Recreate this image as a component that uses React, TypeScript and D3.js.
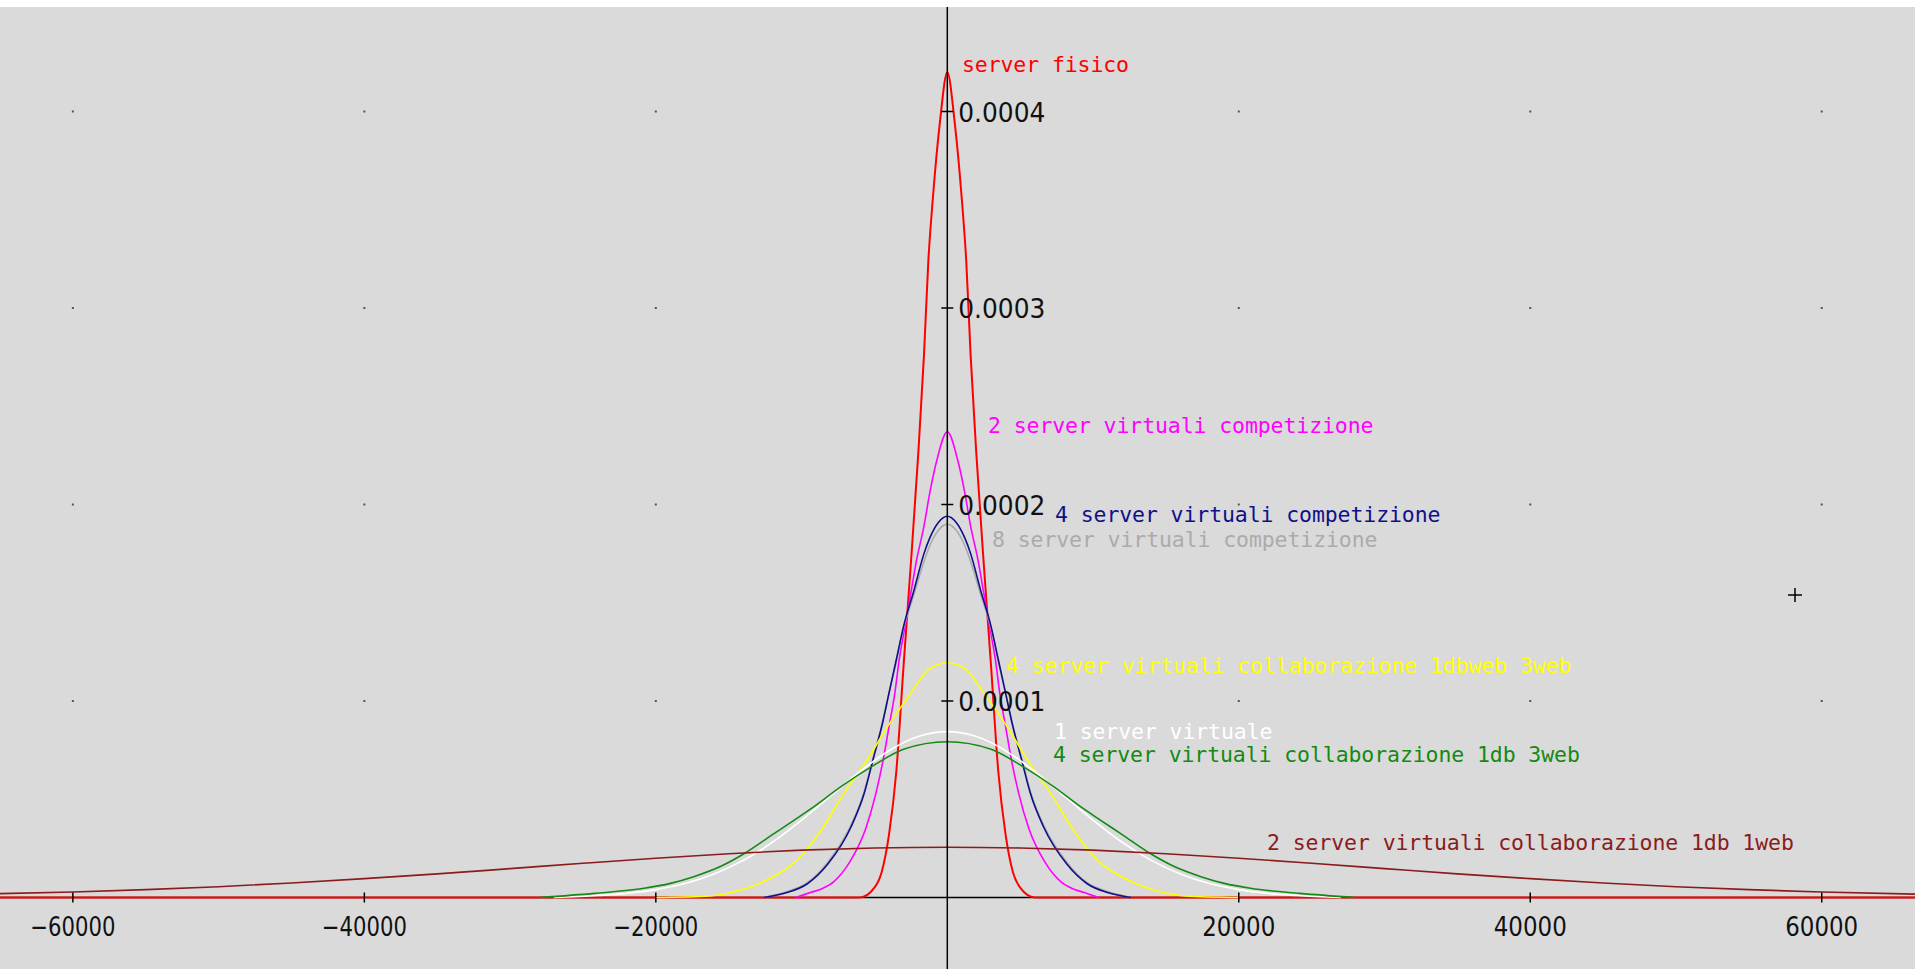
import React from 'react'
import * as d3 from 'd3'

const width = 1915
const height = 969

// axis ticks
const xTicks = [-60000, -40000, -20000, 20000, 40000, 60000]
const yTicks = [0.0001, 0.0002, 0.0003, 0.0004]

// series (names / colours in drawing order below)
const fisicoX = [-65000, -6000, -5000, -4500, -4000, -3500, -3000, -2500, -2000, -1600, -1300, -1000, -500, 0, 500, 1000, 1300, 1600, 2000, 2500, 3000, 3500, 4000, 4500, 5000, 6000, 66400]
const fisicoY = [0, 0, 0.000005, 0.000013, 0.000032, 0.000064, 0.000118, 0.00017, 0.000225, 0.000276, 0.000324, 0.000355, 0.000395, 0.00042, 0.000395, 0.000355, 0.000324, 0.000276, 0.000225, 0.00017, 0.000118, 0.000064, 0.000032, 0.000013, 0.000005, 0, 0]

const comp2X = [-10400, -9400, -8600, -7800, -6700, -5600, -4900, -4400, -4000, -3600, -3300, -2900, -2500, -2100, -1600, -1200, -700, 0, 700, 1200, 1600, 2100, 2500, 2900, 3300, 3600, 4000, 4400, 4900, 5600, 6700, 7800, 8600, 9400, 10400]
const comp2Y = [0, 0.0000025, 0.0000045, 0.000008, 0.000018, 0.000035, 0.000053, 0.00007, 0.000087, 0.000104, 0.000121, 0.000138, 0.000155, 0.000172, 0.000189, 0.000206, 0.000223, 0.000237, 0.000223, 0.000206, 0.000189, 0.000172, 0.000155, 0.000138, 0.000121, 0.000104, 0.000087, 0.00007, 0.000053, 0.000035, 0.000018, 0.000008, 0.0000045, 0.0000025, 0]

const comp4X = [-12600, -11000, -9600, -8200, -6600, -5700, -5100, -4500, -4000, -3500, -3000, -2300, -1600, -1200, -600, 0, 600, 1200, 1600, 2300, 3000, 3500, 4000, 4500, 5100, 5700, 6600, 8200, 9600, 11000, 12600]
const comp4Y = [0, 0.0000025, 0.000007, 0.000017, 0.000036, 0.000053, 0.00007, 0.000087, 0.000104, 0.000121, 0.000138, 0.000156, 0.000175, 0.000183, 0.000191, 0.000194, 0.000191, 0.000183, 0.000175, 0.000156, 0.000138, 0.000121, 0.000104, 0.000087, 0.00007, 0.000053, 0.000036, 0.000017, 0.000007, 0.0000025, 0]

const comp8X = [-12600, -11000, -9600, -8200, -6600, -5700, -5100, -4500, -4000, -3500, -3000, -2300, -1600, -1200, -600, 0, 600, 1200, 1600, 2300, 3000, 3500, 4000, 4500, 5100, 5700, 6600, 8200, 9600, 11000, 12600]
const comp8Y = [0, 0.000003, 0.0000075, 0.000018, 0.000037, 0.000054, 0.000071, 0.0000875, 0.000104, 0.00012, 0.000137, 0.000154, 0.000171, 0.000179, 0.000187, 0.00019, 0.000187, 0.000179, 0.000171, 0.000154, 0.000137, 0.00012, 0.000104, 0.0000875, 0.000071, 0.000054, 0.000037, 0.000018, 0.0000075, 0.000003, 0]

const collabWebX = [-20000, -16300, -14200, -12400, -10300, -8500, -7100, -5500, -4100, -2500, -1300, 0, 1300, 2500, 4100, 5500, 7100, 8500, 10300, 12400, 14200, 16300, 20000]
const collabWebY = [0, 0.0000008, 0.0000038, 0.0000089, 0.000019, 0.000036, 0.000053, 0.00007, 0.000087, 0.000104, 0.000116, 0.0001195, 0.000116, 0.000104, 0.000087, 0.00007, 0.000053, 0.000036, 0.000019, 0.0000089, 0.0000038, 0.0000008, 0]

const unoX = [-27000, -24000, -22000, -20000, -18000, -16000, -14000, -12000, -10000, -8000, -6000, -4000, -2000, 0, 2000, 4000, 6000, 8000, 10000, 12000, 14000, 16000, 18000, 20000, 22000, 24000, 27000]
const unoY = [0, 0.000001, 0.0000021, 0.000004, 0.0000071, 0.000012, 0.0000189, 0.0000281, 0.0000394, 0.0000518, 0.0000641, 0.0000747, 0.0000819, 0.0000844, 0.0000819, 0.0000747, 0.0000641, 0.0000518, 0.0000394, 0.0000281, 0.0000189, 0.000012, 0.0000071, 0.000004, 0.0000021, 0.000001, 0]

const collab3X = [-28000, -24200, -20800, -19000, -17400, -15500, -13900, -12000, -10500, -9000, -7300, -5000, -3000, 0, 3000, 5000, 7300, 9000, 10500, 12000, 13900, 15500, 17400, 19000, 20800, 24200, 28000]
const collab3Y = [0, 0.0000021, 0.0000047, 0.0000072, 0.0000106, 0.000016, 0.0000225, 0.000032, 0.0000394, 0.000047, 0.0000564, 0.0000675, 0.0000755, 0.0000793, 0.0000755, 0.0000675, 0.0000564, 0.000047, 0.0000394, 0.000032, 0.0000225, 0.000016, 0.0000106, 0.0000072, 0.0000047, 0.0000021, 0]

const collab1X = [-66000, -60000, -55000, -50000, -45000, -40000, -35000, -30000, -25000, -20000, -15000, -10000, -5000, 0, 5000, 10000, 15000, 20000, 25000, 30000, 35000, 40000, 45000, 50000, 55000, 60000, 66400]
const collab1Y = [0.0000018, 0.0000028, 0.000004, 0.0000055, 0.0000074, 0.0000096, 0.000012, 0.0000147, 0.0000174, 0.00002, 0.0000223, 0.0000241, 0.0000252, 0.0000256, 0.0000252, 0.0000241, 0.0000223, 0.00002, 0.0000174, 0.0000147, 0.000012, 0.0000096, 0.0000074, 0.0000055, 0.000004, 0.0000028, 0.0000017]

const seriesNames = [
  'server fisico',
  '2 server virtuali competizione',
  '8 server virtuali competizione',
  '4 server virtuali competizione',
  '4 server virtuali collaborazione 1dbweb 3web',
  '1 server virtuale',
  '4 server virtuali collaborazione 1db 3web',
  '2 server virtuali collaborazione 1db 1web'
]
const seriesColors = ['#ff0000', '#ff00ff', '#ababab', '#10108a', '#ffff00', '#ffffff', '#138a13', '#8a1c1c']
const seriesXs = [fisicoX, comp2X, comp8X, comp4X, collabWebX, unoX, collab3X, collab1X]
const seriesYs = [fisicoY, comp2Y, comp8Y, comp4Y, collabWebY, unoY, collab3Y, collab1Y]

// where each name is written (left x, baseline y)
const labelPos = [
  [962, 72], [988, 433], [992, 547], [1055, 522], [1006, 673], [1054, 739], [1053, 762], [1267, 850]
]

const plotTop = 7
const cursor = [1795, 595]

const xScale = d3.scaleLinear().domain([-65000, 66400]).range([0, width])
const yScale = d3.scaleLinear().domain([0, 0.0004]).range([897.5, 111.5])

const line = d3.line<[number, number]>()
  .x(d => xScale(d[0]))
  .y(d => yScale(d[1]))
  .curve(d3.curveMonotoneX)

const fmtX = d3.format('d')
const fmtY = d3.format('.4f')

const tickFont = "'DejaVu Sans Condensed', 'DejaVu Sans', sans-serif"
const monoFont = "'DejaVu Sans Mono', 'Liberation Mono', monospace"

const App = () => {
  const x0 = xScale(0)
  const y0 = yScale(0)

  return (
    <svg width={width} height={height} style={{ position: 'absolute', left: 0, top: 0, display: 'block', background: '#fff' }}>
      <defs>
        <clipPath id="plot">
          <rect x={0} y={plotTop} width={width} height={height - plotTop} />
        </clipPath>
      </defs>
      <rect x={0} y={plotTop} width={width} height={height - plotTop} fill="#dadada" />

      <g clipPath="url(#plot)">
        {/* grid dots */}
        {xTicks.map(tx => yTicks.map(ty =>
          <rect key={tx + '_' + ty} x={xScale(tx) - 1} y={yScale(ty) - 1} width={2} height={2} fill="#555" />
        ))}

        <line x1={0} x2={width} y1={y0} y2={y0} stroke="#000" strokeWidth={1.5} />

        {seriesXs.map((xs, i) => {
          const pts = xs.map((v, j) => [v, seriesYs[i][j]] as [number, number])
          return <path key={i} d={line(pts) || ''} fill="none" stroke={seriesColors[i]} strokeWidth={i === 0 ? 2 : 1.6} />
        })}

        <line x1={x0} x2={x0} y1={plotTop} y2={height} stroke="#000" strokeWidth={1.5} />

        {yTicks.map(t =>
          <g key={t}>
            <line x1={x0 - 6} x2={x0 + 6} y1={yScale(t)} y2={yScale(t)} stroke="#000" strokeWidth={1.5} />
            <text x={x0 + 11} y={yScale(t) + 10} fontFamily={tickFont} fontStretch="condensed" fontSize={26}
              textLength={87} lengthAdjust="spacingAndGlyphs" fill="#111">{fmtY(t)}</text>
          </g>
        )}

        {xTicks.map(t =>
          <g key={t}>
            <line x1={xScale(t)} x2={xScale(t)} y1={y0 - 5} y2={y0 + 5} stroke="#000" strokeWidth={1.5} />
            <text x={xScale(t)} y={y0 + 38} textAnchor="middle" fontFamily={tickFont} fontStretch="condensed" fontSize={26}
              textLength={t < 0 ? 85 : 73} lengthAdjust="spacingAndGlyphs" fill="#111">{fmtX(t)}</text>
          </g>
        )}

        {seriesNames.map((name, i) =>
          <text key={name} x={labelPos[i][0]} y={labelPos[i][1]} fontFamily={monoFont} fontSize={21.5}
            textLength={name.length * 12.85} lengthAdjust="spacing" fill={seriesColors[i]}>{name}</text>
        )}

        <path d={`M${cursor[0] - 7},${cursor[1]}H${cursor[0] + 7}M${cursor[0]},${cursor[1] - 7}V${cursor[1] + 7}`}
          stroke="#000" strokeWidth={1.5} />
      </g>
    </svg>
  )
}

export default App
